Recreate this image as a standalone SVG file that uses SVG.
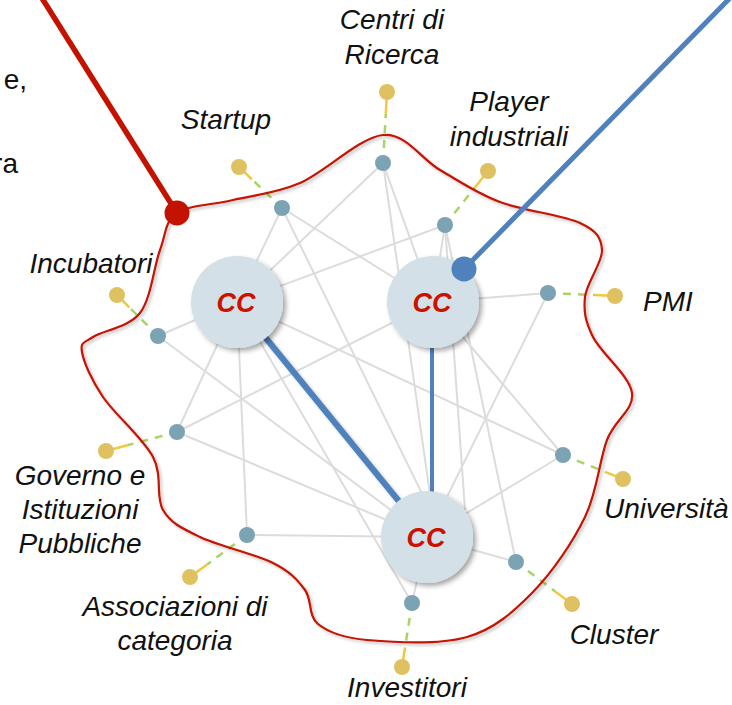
<svg xmlns="http://www.w3.org/2000/svg" width="732" height="705" viewBox="0 0 732 705">
<defs>
<filter id="sh" x="-30%" y="-30%" width="160%" height="160%">
<feDropShadow dx="3" dy="3" stdDeviation="2.5" flood-color="#000" flood-opacity="0.35"/>
</filter>
<filter id="lsh" x="-10%" y="-10%" width="120%" height="120%">
<feDropShadow dx="2" dy="2" stdDeviation="1.5" flood-color="#000" flood-opacity="0.25"/>
</filter>
</defs>
<style>
.lbl{font-family:"Liberation Sans",Arial,sans-serif;font-style:italic;font-size:28px;fill:#111}
.cut{font-family:"Liberation Sans",Arial,sans-serif;font-size:28px;fill:#111}
.cc{fill:#d3e0e7;filter:url(#sh)}
.cct{font-family:"Liberation Sans",Arial,sans-serif;font-style:italic;font-weight:bold;font-size:27px;fill:#cc1100;text-anchor:middle}
.teal{fill:#7ba3b3}
.yel{fill:#dfc162}
.edge{stroke:#dcdcdc;stroke-width:2;fill:none}
.blue{stroke:#4f81bd;stroke-width:6;fill:none;filter:url(#lsh)}
.dg{stroke:#a9d45f;stroke-width:2.5;stroke-dasharray:8 7;fill:none}
.dy{stroke:#f0c840;stroke-width:2.5;fill:none}
.red{stroke:#c41200;stroke-width:2.2;fill:none;filter:url(#lsh)}
</style>
<rect width="732" height="705" fill="#fff"/>
<text class="cut" x="27" y="89" text-anchor="end">e,</text>
<text class="cut" x="18" y="173" text-anchor="end">ra</text>

<g id="connectors">
<g id="edges">
<line class="edge" x1="282" y1="208" x2="237" y2="302"/>
<line class="edge" x1="282" y1="208" x2="433" y2="302"/>
<line class="edge" x1="282" y1="208" x2="435" y2="520"/>
<line class="edge" x1="383" y1="163" x2="237" y2="302"/>
<line class="edge" x1="383" y1="163" x2="433" y2="302"/>
<line class="edge" x1="383" y1="163" x2="436" y2="537"/>
<line class="edge" x1="445" y1="225" x2="237" y2="302"/>
<line class="edge" x1="445" y1="225" x2="433" y2="302"/>
<line class="edge" x1="445" y1="225" x2="465" y2="510"/>
<line class="edge" x1="445" y1="225" x2="516" y2="562"/>
<line class="edge" x1="548" y1="293" x2="433" y2="302"/>
<line class="edge" x1="548" y1="293" x2="427" y2="537"/>
<line class="edge" x1="563" y1="455" x2="433" y2="302"/>
<line class="edge" x1="563" y1="455" x2="237" y2="302"/>
<line class="edge" x1="563" y1="455" x2="427" y2="537"/>
<line class="edge" x1="516" y1="562" x2="427" y2="537"/>
<line class="edge" x1="412" y1="603" x2="427" y2="537"/>
<line class="edge" x1="412" y1="603" x2="237" y2="302"/>
<line class="edge" x1="247" y1="535" x2="427" y2="537"/>
<line class="edge" x1="247" y1="535" x2="237" y2="302"/>
<line class="edge" x1="177" y1="432" x2="237" y2="302"/>
<line class="edge" x1="177" y1="432" x2="433" y2="302"/>
<line class="edge" x1="177" y1="432" x2="427" y2="537"/>
<line class="edge" x1="158" y1="336" x2="237" y2="302"/>
<line class="edge" x1="158" y1="336" x2="427" y2="537"/>
</g>
<g id="dashes">
<line class="dg" x1="282" y1="208" x2="251.9" y2="179.3"/><line class="dy" x1="251.9" y1="179.3" x2="239" y2="167"/>
<line class="dg" x1="383" y1="163" x2="385.8" y2="113.3"/><line class="dy" x1="385.8" y1="113.3" x2="387" y2="92"/>
<line class="dg" x1="445" y1="225" x2="475.1" y2="187.2"/><line class="dy" x1="475.1" y1="187.2" x2="488" y2="171"/>
<line class="dg" x1="548" y1="293" x2="594.9" y2="295.1"/><line class="dy" x1="594.9" y1="295.1" x2="615" y2="296"/>
<line class="dg" x1="563" y1="455" x2="605" y2="471.8"/><line class="dy" x1="605" y1="471.8" x2="623" y2="479"/>
<line class="dg" x1="516" y1="562" x2="555.2" y2="591.4"/><line class="dy" x1="555.2" y1="591.4" x2="572" y2="604"/>
<line class="dg" x1="412" y1="603" x2="405" y2="647.8"/><line class="dy" x1="405" y1="647.8" x2="402" y2="667"/>
<line class="dg" x1="247" y1="535" x2="207.1" y2="564.4"/><line class="dy" x1="207.1" y1="564.4" x2="190" y2="577"/>
<line class="dg" x1="177" y1="432" x2="127.3" y2="445.3"/><line class="dy" x1="127.3" y1="445.3" x2="106" y2="451"/>
<line class="dg" x1="158" y1="336" x2="129.3" y2="307.3"/><line class="dy" x1="129.3" y1="307.3" x2="117" y2="295"/>
</g>
<g id="strong">
<line class="blue" x1="280" y1="302" x2="390" y2="302"/>
<line class="blue" x1="265" y1="337" x2="402" y2="505"/>
<line class="blue" x1="433" y1="345" x2="431" y2="493"/>
</g>
<path id="contour" class="red" d="M177,213 C189.2,204.7 212.5,205 233,200 C253.5,195 275,193.8 300,183 C325,172.2 359.7,137.2 383,135 C406.3,132.8 420.5,158.8 440,170 C459.5,181.2 476.7,193.2 500,202 C523.3,210.8 563,215 580,223 C597,231 601.2,237.7 602,250 C602.8,262.3 586.5,282.5 585,297 C583.5,311.5 585.2,321 593,337 C600.8,353 629.7,375.8 632,393 C634.3,410.2 614.8,419.3 607,440 C599.2,460.7 597.3,491.7 585,517 C572.7,542.3 552.7,572 533,592 C513.3,612 494.7,629 467,637 C439.3,645 391.8,642.2 367,640 C342.2,637.8 328.3,632.3 318,624 C307.7,615.7 312.5,600.2 305,590 C297.5,579.8 290.5,571.8 273,563 C255.5,554.2 218.3,545.8 200,537 C181.7,528.2 170.8,523.3 163,510 C155.2,496.7 163,475.8 153,457 C143,438.2 114.8,414.5 103,397 C91.2,379.5 83.7,362 82,352 C80.3,342 83.3,343.5 93,337 C102.7,330.5 128.8,327.5 140,313 C151.2,298.5 153.8,266.7 160,250 C166.2,233.3 164.8,221.3 177,213 Z"/>
<line id="red-link" x1="40" y1="-5" x2="177" y2="213" stroke="#c41200" stroke-width="5.5"/>
<line id="blue-link" x1="730" y1="-2" x2="464" y2="269" stroke="#4f81bd" stroke-width="5"/>
</g>

<g id="cc1"><circle class="cc" cx="237" cy="302" r="46"/><text class="cct" x="236" y="312">CC</text></g>
<g id="cc2"><circle class="cc" cx="433" cy="302" r="46"/><text class="cct" x="432" y="312">CC</text></g>
<g id="cc3"><circle class="cc" cx="427" cy="537" r="46"/><text class="cct" x="426" y="547">CC</text></g>
<g id="red-dot"><circle cx="177" cy="213" r="12.5" fill="#c41200"/></g>
<g id="blue-dot"><circle cx="464" cy="269" r="12.5" fill="#4f81bd"/></g>

<g id="startup"><circle class="teal" cx="282" cy="208" r="8"/><circle class="yel" cx="239" cy="167" r="8"/><text class="lbl" x="226" y="129" text-anchor="middle">Startup</text></g>
<g id="centri"><circle class="teal" cx="383" cy="163" r="8"/><circle class="yel" cx="387" cy="92" r="8"/><text class="lbl" x="392" y="29" text-anchor="middle">Centri di</text><text class="lbl" x="392" y="64" text-anchor="middle">Ricerca</text></g>
<g id="player"><circle class="teal" cx="445" cy="225" r="8"/><circle class="yel" cx="488" cy="171" r="8"/><text class="lbl" x="509" y="111" text-anchor="middle">Player</text><text class="lbl" x="509" y="146" text-anchor="middle">industriali</text></g>
<g id="pmi"><circle class="teal" cx="548" cy="293" r="8"/><circle class="yel" cx="615" cy="296" r="8"/><text class="lbl" x="643" y="311">PMI</text></g>
<g id="universita"><circle class="teal" cx="563" cy="455" r="8"/><circle class="yel" cx="623" cy="479" r="8"/><text class="lbl" x="604" y="518">Università</text></g>
<g id="cluster"><circle class="teal" cx="516" cy="562" r="8"/><circle class="yel" cx="572" cy="604" r="8"/><text class="lbl" x="614" y="644" text-anchor="middle">Cluster</text></g>
<g id="investitori"><circle class="teal" cx="412" cy="603" r="8"/><circle class="yel" cx="402" cy="667" r="8"/><text class="lbl" x="407" y="697" text-anchor="middle">Investitori</text></g>
<g id="associazioni"><circle class="teal" cx="247" cy="535" r="8"/><circle class="yel" cx="190" cy="577" r="8"/><text class="lbl" x="175" y="616" text-anchor="middle">Associazioni di</text><text class="lbl" x="175" y="650" text-anchor="middle">categoria</text></g>
<g id="governo"><circle class="teal" cx="177" cy="432" r="8"/><circle class="yel" cx="106" cy="451" r="8"/><text class="lbl" x="80" y="485" text-anchor="middle">Governo e</text><text class="lbl" x="80" y="519" text-anchor="middle">Istituzioni</text><text class="lbl" x="80" y="553" text-anchor="middle">Pubbliche</text></g>
<g id="incubatori"><circle class="teal" cx="158" cy="336" r="8"/><circle class="yel" cx="117" cy="295" r="8"/><text class="lbl" x="91" y="273" text-anchor="middle">Incubatori</text></g>
</svg>
